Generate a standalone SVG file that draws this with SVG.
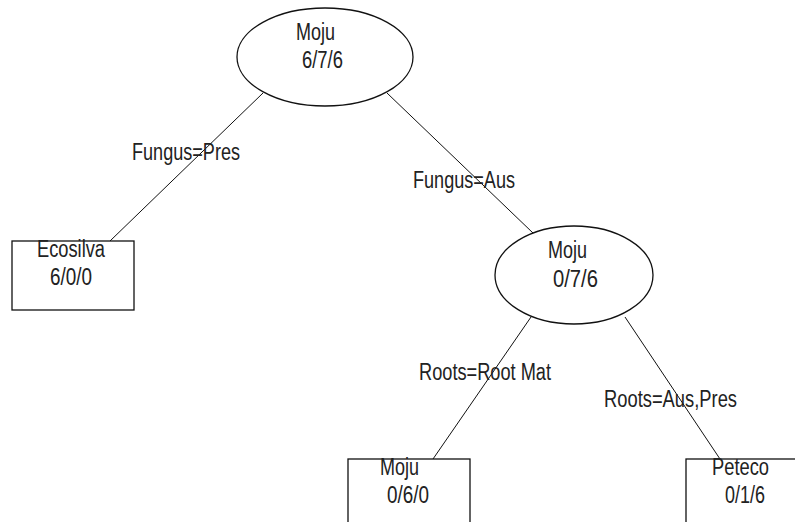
<svg xmlns="http://www.w3.org/2000/svg" width="795" height="522" viewBox="0 0 795 522">
<style>
.n{fill:#fff;stroke:#111;stroke-width:1.3}
.e{stroke:#111;stroke-width:1;fill:none}
text{font-family:"Liberation Sans",Arial,sans-serif;font-size:23.5px;fill:#222}
</style>
<rect width="795" height="522" fill="#fff"/>
<g id="edges">
<line class="e" x1="263" y1="93" x2="110" y2="241"/>
<line class="e" x1="387" y1="93" x2="533" y2="233"/>
<line class="e" x1="531" y1="317" x2="433" y2="459"/>
<line class="e" x1="625" y1="317" x2="720" y2="459"/>
<text x="132" y="160" textLength="108" lengthAdjust="spacingAndGlyphs">Fungus=Pres</text>
<text x="413" y="188" textLength="102" lengthAdjust="spacingAndGlyphs">Fungus=Aus</text>
<text x="419" y="380" textLength="132" lengthAdjust="spacingAndGlyphs">Roots=Root Mat</text>
<text x="604" y="407" textLength="133" lengthAdjust="spacingAndGlyphs">Roots=Aus,Pres</text>
</g>
<g id="root">
<ellipse class="n" cx="325" cy="57" rx="88" ry="49"/>
<text x="296" y="40" textLength="39" lengthAdjust="spacingAndGlyphs">Moju</text>
<text x="302" y="68" textLength="41" lengthAdjust="spacingAndGlyphs">6/7/6</text>
</g>
<g id="ecosilva">
<rect class="n" x="12" y="241" width="122" height="69"/>
<text x="37" y="257" textLength="68" lengthAdjust="spacingAndGlyphs">Ecosilva</text>
<text x="50" y="285" textLength="42" lengthAdjust="spacingAndGlyphs">6/0/0</text>
</g>
<g id="moju2">
<ellipse class="n" cx="574" cy="275" rx="79" ry="49"/>
<text x="548" y="258" textLength="39" lengthAdjust="spacingAndGlyphs">Moju</text>
<text x="553" y="287" textLength="45" lengthAdjust="spacingAndGlyphs">0/7/6</text>
</g>
<g id="moju3">
<rect class="n" x="348" y="459" width="122" height="80"/>
<text x="380" y="475" textLength="39" lengthAdjust="spacingAndGlyphs">Moju</text>
<text x="387" y="503" textLength="42" lengthAdjust="spacingAndGlyphs">0/6/0</text>
</g>
<g id="peteco">
<rect class="n" x="686" y="459" width="122" height="80"/>
<text x="712" y="475" textLength="57" lengthAdjust="spacingAndGlyphs">Peteco</text>
<text x="725" y="503" textLength="40" lengthAdjust="spacingAndGlyphs">0/1/6</text>
</g>
</svg>
